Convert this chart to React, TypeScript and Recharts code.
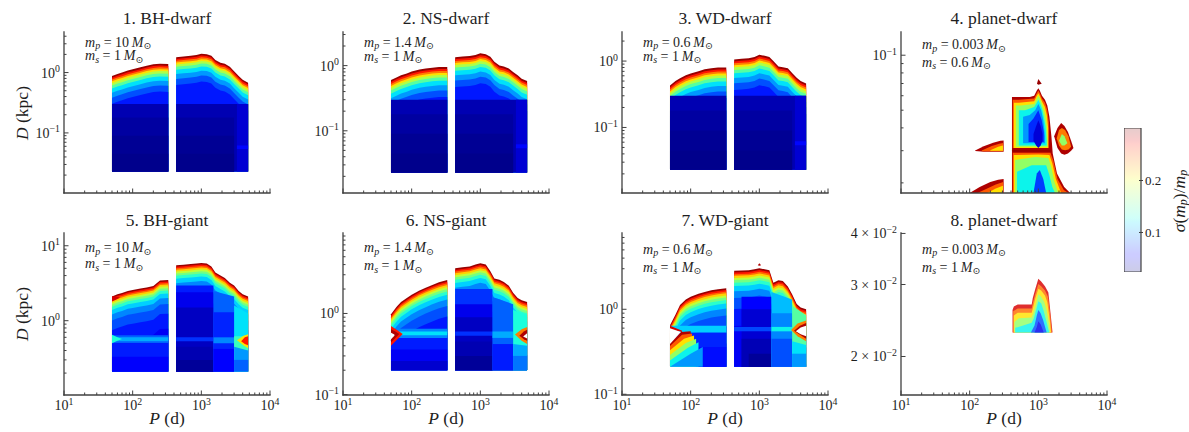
import React from 'react'
import { ComposedChart, Area, XAxis, YAxis, ReferenceArea } from 'recharts'

const FONT = "'Liberation Serif', 'DejaVu Serif', serif"
const INK = '#1e1e1e'
const FRAME = '#404040'

// colour scale of sigma(m_p)/m_p
const S_MIN = 0.024
const S_MAX = 0.301
const CB_TICKS = [0.1, 0.2]
const CB_T = [0, 0.11, 0.125, 0.34, 0.35, 0.375, 0.64, 0.65, 0.66, 0.89, 0.91, 1]

// axis ticks
const X_TICKS = [10, 20, 30, 40, 50, 60, 70, 80, 90, 100, 200, 300, 400, 500, 600, 700, 800, 900, 1000, 2000, 3000, 4000, 5000, 6000, 7000, 8000, 9000, 10000]
const X_LABELS = { '10': ['10', '1'], '100': ['10', '2'], '1000': ['10', '3'], '10000': ['10', '4'] }
const Y_TICKS = [0.02, 0.03, 0.04, 0.05, 0.06, 0.07, 0.08, 0.09, 0.1, 0.2, 0.3, 0.4, 0.5, 0.6, 0.7, 0.8, 0.9, 1, 2, 3, 4, 5, 6, 7, 8, 9, 10]
const Y_LABELS_POW = { '0.1': ['10', '\u22121'], '1': ['10', '0'], '10': ['10', '1'] }
const Y_LABELS_P8 = { '0.02': ['2 \u00d7 10', '\u22122'], '0.03': ['3 \u00d7 10', '\u22122'], '0.04': ['4 \u00d7 10', '\u22122'] }

// period grid of the two blocks of the simulation
const LEFT_P = [50, 60, 70, 85, 100, 130, 160, 200, 250, 330]
const RIGHT_P = [430, 550, 700, 850, 1000, 1200, 1400, 1600, 1900, 2200, 2600, 3000, 3500, 4000, 4800]

// colour bands under the detection edge: depth below edge (dex) and sigma
const DWARF_DEPTH = [0, 0.03, 0.06, 0.09, 0.12, 0.16, 0.21, 0.28, 0.36, 0.46]
const DWARF_SIGMA = [0.295, 0.27, 0.24, 0.21, 0.18, 0.15, 0.12, 0.1, 0.08, 0.065]
const GIANT_DEPTH = [0, 0.02, 0.04, 0.06, 0.085, 0.11, 0.14, 0.18, 0.24, 0.32, 0.45, 0.65]
const GIANT_SIGMA = [0.295, 0.27, 0.245, 0.215, 0.185, 0.16, 0.135, 0.115, 0.095, 0.08, 0.065, 0.052]

// 1. BH-dwarf
const P1_LEFT_TOP = [0.88, 0.95, 1.0, 1.08, 1.13, 1.22, 1.3, 1.37, 1.4, 1.38]
const P1_RIGHT_TOP = [1.8, 1.85, 1.9, 1.95, 2.05, 2.02, 1.9, 1.62, 1.45, 1.4, 1.25, 1.05, 0.88, 0.76, 0.68]
// 2. NS-dwarf
const P2_LEFT_TOP = [0.6, 0.66, 0.71, 0.76, 0.81, 0.87, 0.9, 0.93, 0.95, 0.95]
const P2_RIGHT_TOP = [1.35, 1.38, 1.4, 1.45, 1.55, 1.5, 1.37, 1.15, 1.0, 0.97, 0.9, 0.8, 0.71, 0.63, 0.58]
// 3. WD-dwarf
const P3_LEFT_TOP = [0.43, 0.5, 0.55, 0.61, 0.65, 0.7, 0.75, 0.78, 0.8, 0.8]
const P3_RIGHT_TOP = [1.06, 1.08, 1.1, 1.15, 1.25, 1.2, 1.15, 1.0, 0.83, 0.81, 0.78, 0.66, 0.56, 0.5, 0.46]
// 5. BH-giant
const P5_LEFT_TOP = [2.1, 2.25, 2.35, 2.5, 2.57, 2.68, 2.78, 2.9, 3.45, 3.5]
const P5_RIGHT_TOP = [5.5, 5.6, 5.7, 5.8, 5.9, 5.8, 5.3, 4.4, 4.0, 3.7, 3.2, 2.95, 2.5, 2.25, 2.1]
// 6. NS-giant
const P6_LEFT_TOP = [0.98, 1.2, 1.38, 1.55, 1.7, 1.92, 2.08, 2.25, 2.42, 2.58]
const P6_RIGHT_TOP = [3.6, 3.7, 3.8, 4.0, 4.15, 4.0, 3.3, 2.7, 2.6, 2.45, 2.2, 1.8, 1.55, 1.45, 1.38]
// 7. WD-giant
const P7_LEFT_TOP = [0.65, 0.86, 1.12, 1.3, 1.4, 1.52, 1.6, 1.67, 1.72, 1.77]
const P7_RIGHT_TOP = [2.84, 2.86, 2.88, 2.95, 3.03, 2.95, 2.87, 2.05, 2.2, 2.15, 1.85, 1.5, 1.15, 1.05, 1.0]

type Layer = { P: number[]; lo: number | number[]; hi: number | number[]; s: number }

const DWARF_BASE = (b: number): Layer[] => [
  { P: [50, 330], lo: b, hi: 0.3, s: 0.036 },
  { P: [50, 330], lo: b, hi: 0.18, s: 0.032 },
  { P: [50, 330], lo: b, hi: 0.09, s: 0.029 },
  { P: [50, 330], lo: b, hi: 0.045, s: 0.027 },
  { P: [430, 4800], lo: b, hi: 0.3, s: 0.036 },
  { P: [430, 3000], lo: b, hi: 0.18, s: 0.032 },
  { P: [430, 3000], lo: b, hi: 0.09, s: 0.029 },
  { P: [430, 3000], lo: b, hi: 0.045, s: 0.027 },
  { P: [3300, 4800], lo: b, hi: 0.3, s: 0.044 },
  { P: [3300, 4800], lo: 0.054, hi: 0.062, s: 0.06 },
]

const P5_EXTRA: Layer[] = [
  { P: [50, 330], lo: 0.5, hi: 0.64, s: 0.085 },
  { P: [50, 330], lo: 0.53, hi: 0.6, s: 0.105 },
  { P: [50, 330], lo: 0.21, hi: 0.5, s: 0.066 },
  { P: [50, 330], lo: 0.21, hi: 0.33, s: 0.054 },
  { P: [50, 58, 66], lo: [1.8, 1.92, 2.04], hi: [2.12, 2.08, 2.04], s: 0.28 },
  { P: [50, 60, 70], lo: [0.5, 0.54, 0.57], hi: [0.65, 0.6, 0.57], s: 0.13 },
  { P: [430, 1500], lo: 0.21, hi: 2.95, s: 0.066 },
  { P: [430, 1500], lo: 0.21, hi: 2.4, s: 0.05 },
  { P: [430, 1500], lo: 0.21, hi: 1.5, s: 0.04 },
  { P: [430, 1500], lo: 0.53, hi: 0.6, s: 0.072 },
  { P: [430, 1500], lo: 0.21, hi: 0.45, s: 0.036 },
  { P: [430, 1500], lo: 0.21, hi: 0.3, s: 0.03 },
  { P: [1500, 3000], lo: 0.21, hi: [2.5, 2.1], s: 0.085 },
  { P: [1500, 3000], lo: 0.21, hi: 1.3, s: 0.068 },
  { P: [1500, 3000], lo: 0.5, hi: 0.6, s: 0.095 },
  { P: [1500, 3000], lo: 0.21, hi: 0.42, s: 0.056 },
  { P: [3000, 4800], lo: 0.21, hi: [1.6, 1.25], s: 0.12 },
  { P: [3000, 4800], lo: 0.21, hi: 0.62, s: 0.14 },
  { P: [3300, 4100, 4800], lo: [0.55, 0.47, 0.43], hi: [0.55, 0.63, 0.66], s: 0.21 },
  { P: [3800, 4300, 4800], lo: [0.53, 0.49, 0.47], hi: [0.53, 0.6, 0.62], s: 0.27 },
  { P: [3000, 4800], lo: 0.21, hi: [0.45, 0.4], s: 0.1 },
  { P: [3000, 4800], lo: 0.21, hi: 0.3, s: 0.085 },
]

const P6_EXTRA: Layer[] = [
  { P: [50, 330], lo: 0.5, hi: 0.65, s: 0.095 },
  { P: [50, 330], lo: 0.54, hi: 0.6, s: 0.12 },
  { P: [50, 330], lo: 0.2, hi: 0.5, s: 0.066 },
  { P: [50, 330], lo: 0.2, hi: 0.36, s: 0.052 },
  { P: [50, 330], lo: 0.2, hi: 0.26, s: 0.043 },
  { P: [50, 62, 74], lo: [0.4, 0.48, 0.56], hi: [0.7, 0.62, 0.56], s: 0.27 },
  { P: [50, 58, 66], lo: [0.44, 0.5, 0.56], hi: [0.64, 0.6, 0.56], s: 0.29 },
  { P: [50, 56], lo: [0.48, 0.53], hi: [0.58, 0.55], s: -1 },
  { P: [430, 1500], lo: 0.2, hi: 2.0, s: 0.072 },
  { P: [430, 1500], lo: 0.2, hi: 1.3, s: 0.05 },
  { P: [430, 1500], lo: 0.2, hi: 0.9, s: 0.04 },
  { P: [430, 1500], lo: 0.53, hi: 0.6, s: 0.072 },
  { P: [430, 1500], lo: 0.2, hi: 0.45, s: 0.036 },
  { P: [430, 1500], lo: 0.2, hi: 0.3, s: 0.03 },
  { P: [1500, 3000], lo: 0.2, hi: [1.6, 1.3], s: 0.085 },
  { P: [1500, 3000], lo: 0.5, hi: 0.6, s: 0.105 },
  { P: [1500, 3000], lo: 0.2, hi: 0.42, s: 0.066 },
  { P: [3000, 4800], lo: 0.2, hi: [1.1, 0.95], s: 0.13 },
  { P: [3200, 4000, 4800], lo: [0.55, 0.46, 0.42], hi: [0.55, 0.64, 0.68], s: 0.24 },
  { P: [3700, 4300, 4800], lo: [0.53, 0.48, 0.46], hi: [0.53, 0.6, 0.63], s: 0.29 },
  { P: [4200, 4800], lo: [0.52, 0.49], hi: [0.52, 0.57], s: -1 },
  { P: [3000, 4800], lo: 0.2, hi: [0.42, 0.4], s: 0.105 },
  { P: [3000, 4800], lo: 0.2, hi: 0.3, s: 0.09 },
]

const P7_EXTRA: Layer[] = [
  { P: [50, 330], lo: 0.53, hi: 0.64, s: 0.115 },
  { P: [50, 330], lo: 0.21, hi: 0.53, s: 0.068 },
  { P: [50, 330], lo: 0.21, hi: 0.36, s: 0.062 },
  { P: [50, 72, 100], lo: 0.21, hi: [0.4, 0.54, 0.55], s: 0.29 },
  { P: [50, 75, 105], lo: 0.21, hi: [0.37, 0.5, 0.52], s: 0.25 },
  { P: [50, 80, 112], lo: 0.21, hi: [0.33, 0.45, 0.49], s: 0.21 },
  { P: [50, 85, 120], lo: 0.21, hi: [0.29, 0.4, 0.45], s: 0.17 },
  { P: [50, 90, 130], lo: 0.21, hi: [0.25, 0.35, 0.41], s: 0.125 },
  { P: [50, 100, 150], lo: 0.21, hi: [0.21, 0.3, 0.36], s: 0.1 },
  { P: [50, 75], lo: [0.58, 0.54], hi: [0.64, 0.56], s: 0.28 },
  { P: [50, 72], lo: [0.39, 0.54], hi: [0.6, 0.54], s: -1 },
  { P: [550, 1500], lo: 0.21, hi: 1.4, s: 0.058 },
  { P: [550, 1500], lo: 0.21, hi: 1.0, s: 0.044 },
  { P: [430, 1500], lo: 0.55, hi: 0.62, s: 0.078 },
  { P: [550, 1500], lo: 0.21, hi: 0.45, s: 0.037 },
  { P: [700, 1500], lo: 0.21, hi: 0.3, s: 0.03 },
  { P: [1500, 3000], lo: 0.21, hi: [1.6, 1.3], s: 0.11 },
  { P: [1500, 3000], lo: 0.21, hi: 0.9, s: 0.095 },
  { P: [1500, 3000], lo: 0.55, hi: 0.62, s: 0.125 },
  { P: [1500, 3000], lo: 0.21, hi: 0.45, s: 0.08 },
  { P: [3000, 4800], lo: 0.21, hi: [1.1, 0.85], s: 0.15 },
  { P: [2900, 3600, 4800], lo: [0.57, 0.48, 0.42], hi: [0.57, 0.68, 0.74], s: 0.24 },
  { P: [3200, 3900, 4800], lo: [0.56, 0.5, 0.45], hi: [0.56, 0.64, 0.69], s: 0.29 },
  { P: [3400, 4000, 4800], lo: [0.55, 0.51, 0.48], hi: [0.55, 0.61, 0.64], s: -1 },
  { P: [3000, 4800], lo: 0.21, hi: [0.42, 0.38], s: 0.12 },
  { P: [3000, 4800], lo: 0.21, hi: 0.3, s: 0.1 },
  { P: [950, 1000, 1060], lo: [3.3, 3.25, 3.3], hi: [3.3, 3.48, 3.3], s: 0.29 },
]

// 4. planet-dwarf (m_s = 0.6)
const P4_ENV_P = [413, 450, 520, 620, 750, 870, 950, 1000, 1050, 1130, 1250, 1350, 1450, 1550, 1620, 1870, 2380, 2910]
const P4_ENV_TOP = [0.059, 0.059, 0.059, 0.059, 0.059, 0.06, 0.064, 0.066, 0.064, 0.06, 0.057, 0.053, 0.046, 0.036, 0.029, 0.0225, 0.019, 0.0176]
const P4_LAYERS: Layer[] = [
  { P: P4_ENV_P, lo: 0.0176, hi: P4_ENV_TOP, s: 0.29 },
  { P: [425, 520, 870, 950, 1000, 1050, 1130, 1250, 1350, 1420], lo: 0.031, hi: [0.057, 0.057, 0.058, 0.062, 0.064, 0.062, 0.058, 0.055, 0.05, 0.043], s: 0.25 },
  { P: [440, 520, 870, 950, 1000, 1050, 1130, 1250, 1330, 1390], lo: 0.031, hi: [0.055, 0.055, 0.056, 0.06, 0.062, 0.06, 0.056, 0.052, 0.047, 0.04], s: 0.21 },
  { P: [470, 560, 870, 950, 1000, 1050, 1130, 1230, 1300, 1360], lo: 0.0315, hi: [0.053, 0.053, 0.054, 0.058, 0.06, 0.058, 0.054, 0.049, 0.044, 0.037], s: 0.17 },
  { P: [520, 640, 870, 950, 1000, 1050, 1130, 1200, 1270, 1320], lo: 0.032, hi: [0.05, 0.05, 0.052, 0.055, 0.057, 0.055, 0.051, 0.046, 0.041, 0.034], s: 0.125 },
  { P: [600, 750, 900, 1000, 1100, 1180, 1250], lo: 0.033, hi: [0.046, 0.047, 0.05, 0.054, 0.05, 0.044, 0.036], s: 0.1 },
  { P: [720, 850, 1000, 1120, 1200], lo: 0.0335, hi: [0.042, 0.045, 0.05, 0.044, 0.038], s: 0.07 },
  { P: [850, 930, 1000, 1080, 1150], lo: [0.034, 0.032, 0.031, 0.032, 0.034], hi: [0.037, 0.041, 0.044, 0.041, 0.037], s: 0.045 },
  { P: [413, 1550], lo: 0.0296, hi: 0.0304, s: 0.295 },
  { P: [425, 1000, 1500, 1650, 1900, 2350, 2750], lo: 0.0176, hi: [0.0292, 0.0292, 0.0292, 0.0265, 0.021, 0.0183, 0.0176], s: 0.25 },
  { P: [440, 1000, 1450, 1600, 1800, 2150], lo: 0.0176, hi: [0.0284, 0.0286, 0.0284, 0.0255, 0.021, 0.0176], s: 0.21 },
  { P: [460, 900, 1400, 1550, 1700, 1950], lo: 0.0176, hi: [0.0267, 0.0277, 0.0274, 0.0243, 0.0205, 0.0176], s: 0.17 },
  { P: [490, 800, 1300, 1450, 1600, 1750], lo: 0.0176, hi: [0.023, 0.025, 0.025, 0.022, 0.019, 0.0176], s: 0.125 },
  { P: [850, 950, 1050, 1180, 1300], lo: 0.0176, hi: [0.0176, 0.0225, 0.0235, 0.021, 0.0176], s: 0.075 },
  { P: [1700, 1900, 2150, 2400, 2700, 3000, 3250], lo: [0.036, 0.031, 0.029, 0.0285, 0.029, 0.03, 0.031], hi: [0.036, 0.04, 0.0425, 0.041, 0.038, 0.034, 0.031], s: 0.29 },
  { P: [1850, 2000, 2200, 2450, 2750, 3000], lo: [0.035, 0.032, 0.0305, 0.0302, 0.0305, 0.0315], hi: [0.035, 0.039, 0.04, 0.039, 0.036, 0.0315], s: 0.24 },
  { P: [2000, 2200, 2400, 2650], lo: [0.034, 0.032, 0.032, 0.033], hi: [0.034, 0.037, 0.036, 0.033], s: 0.17 },
  { P: [120, 160, 220, 280, 312], lo: [0.0299, 0.0296, 0.0296, 0.0296, 0.0296], hi: [0.0301, 0.0317, 0.0332, 0.034, 0.0341], s: 0.29 },
  { P: [150, 210, 270, 308], lo: 0.0298, hi: [0.0301, 0.0318, 0.0328, 0.0331], s: 0.25 },
  { P: [200, 260, 305], lo: 0.03, hi: [0.0302, 0.0315, 0.032], s: 0.21 },
  { P: [100, 140, 200, 260, 312], lo: 0.0176, hi: [0.0176, 0.019, 0.0202, 0.0208, 0.021], s: 0.29 },
  { P: [130, 180, 240, 308], lo: 0.0176, hi: [0.0176, 0.0186, 0.0196, 0.0202], s: 0.25 },
  { P: [180, 240, 305], lo: 0.0176, hi: [0.0176, 0.0186, 0.0193], s: 0.21 },
  { P: [955, 1000, 1120], lo: [0.0697, 0.069, 0.0697], hi: [0.0697, 0.074, 0.0697], s: 0.295 },
]

// 8. planet-dwarf (m_s = 1)
const P8_P = [421, 440, 500, 600, 700, 800, 830, 900, 1000, 1100, 1250, 1400, 1500, 1610]
const P8_TOP = [0.026, 0.0265, 0.0268, 0.0268, 0.0268, 0.0268, 0.0278, 0.0292, 0.031, 0.0305, 0.0297, 0.0287, 0.0257, 0.0229]
const P8_LAYERS: Layer[] = [
  { P: P8_P, lo: 0.0229, hi: P8_TOP, s: 0.28 },
  { P: [430, 500, 800, 835, 900, 1000, 1100, 1250, 1380, 1480, 1575], lo: 0.0229, hi: [0.0258, 0.0262, 0.0262, 0.0271, 0.0284, 0.0301, 0.0297, 0.029, 0.028, 0.0256, 0.0229], s: 0.245 },
  { P: [440, 500, 800, 840, 900, 1000, 1100, 1250, 1350, 1450, 1535], lo: 0.0229, hi: [0.0252, 0.0256, 0.0256, 0.0264, 0.0277, 0.0293, 0.029, 0.0282, 0.0272, 0.025, 0.0229], s: 0.21 },
  { P: [450, 520, 800, 850, 920, 1000, 1100, 1220, 1320, 1420, 1490], lo: 0.0229, hi: [0.0243, 0.0248, 0.0249, 0.0256, 0.0268, 0.0284, 0.028, 0.0272, 0.026, 0.0242, 0.0229], s: 0.17 },
  { P: [460, 600, 800, 860, 940, 1000, 1100, 1200, 1300, 1440], lo: 0.0229, hi: [0.0235, 0.0238, 0.0242, 0.0248, 0.0262, 0.0273, 0.027, 0.0258, 0.0245, 0.0229], s: 0.125 },
  { P: [780, 880, 950, 1000, 1080, 1180, 1320], lo: 0.0229, hi: [0.0229, 0.0238, 0.0252, 0.026, 0.0255, 0.0245, 0.0229], s: 0.08 },
  { P: [880, 950, 1000, 1080, 1200], lo: 0.0229, hi: [0.0229, 0.0236, 0.0244, 0.024, 0.0229], s: 0.05 },
]

const JET_R = [[0, 0], [0.35, 0], [0.66, 1], [0.89, 1], [1, 0.5]]
const JET_G = [[0, 0], [0.125, 0], [0.375, 1], [0.64, 1], [0.91, 0], [1, 0]]
const JET_B = [[0, 0.5], [0.11, 1], [0.34, 1], [0.65, 0], [1, 0]]

function ramp(stops: number[][], t: number) {
  for (let i = 0; i < stops.length - 1; i++) {
    const [a, va] = stops[i]
    const [b, vb] = stops[i + 1]
    if (t <= b) return va + ((t - a) / (b - a)) * (vb - va)
  }
  return stops[stops.length - 1][1]
}

function colour(s: number, alpha = 1) {
  if (s < 0) return '#ffffff'
  const t = Math.min(1, Math.max(0, (s - S_MIN) / (S_MAX - S_MIN)))
  const c = [ramp(JET_R, t), ramp(JET_G, t), ramp(JET_B, t)].map((v) => Math.round(255 * (alpha * v + 1 - alpha)))
  return `rgb(${c.join(',')})`
}

function bands(P: number[], top: number[], bottom: number, depth: number[], sigma: number[]): Layer[] {
  return depth.map((d, i) => ({ P, lo: bottom, hi: top.map((t) => Math.max(bottom, t / Math.pow(10, d))), s: sigma[i] }))
}

const pick = (v: number | number[], i: number) => (Array.isArray(v) ? v[i] : v)
const rows = (l: Layer) => l.P.map((p, i) => ({ p, v: [pick(l.lo, i), pick(l.hi, i)] }))

type PanelDef = {
  title: string; mp: string; ms: string; col: number; row: number
  yDomain: number[]; yLabels: Record<string, string[]>; layers: Layer[]
  alpha: number; noteY: number; noteGap: number
}

const COL_X = [64, 343, 622, 901]
const ROW_Y = [32, 233]
const ROW_H = [161, 162]
const PW = 206
const ML = 60, MR = 14, MT = 10, MB = 24

const PANELS: PanelDef[] = [
  {
    title: '1. BH-dwarf', mp: '10', ms: '1', col: 0, row: 0, yDomain: [0.0101, 4.7], yLabels: Y_LABELS_POW, alpha: 1, noteY: 46.5, noteGap: 13.5,
    layers: [...bands(LEFT_P, P1_LEFT_TOP, 0.023, DWARF_DEPTH, DWARF_SIGMA), ...bands(RIGHT_P, P1_RIGHT_TOP, 0.023, DWARF_DEPTH, DWARF_SIGMA), ...DWARF_BASE(0.023)],
  },
  {
    title: '2. NS-dwarf', mp: '1.4', ms: '1', col: 1, row: 0, yDomain: [0.0111, 3.28], yLabels: Y_LABELS_POW, alpha: 1, noteY: 46.5, noteGap: 14,
    layers: [...bands(LEFT_P, P2_LEFT_TOP, 0.023, DWARF_DEPTH, DWARF_SIGMA), ...bands(RIGHT_P, P2_RIGHT_TOP, 0.023, DWARF_DEPTH, DWARF_SIGMA), ...DWARF_BASE(0.023)],
  },
  {
    title: '3. WD-dwarf', mp: '0.6', ms: '1', col: 2, row: 0, yDomain: [0.0103, 2.74], yLabels: Y_LABELS_POW, alpha: 1, noteY: 46.5, noteGap: 14,
    layers: [...bands(LEFT_P, P3_LEFT_TOP, 0.023, DWARF_DEPTH, DWARF_SIGMA), ...bands(RIGHT_P, P3_RIGHT_TOP, 0.023, DWARF_DEPTH, DWARF_SIGMA), ...DWARF_BASE(0.023)],
  },
  {
    title: '4. planet-dwarf', mp: '0.003', ms: '0.6', col: 3, row: 0, yDomain: [0.0176, 0.134], yLabels: Y_LABELS_POW, alpha: 1, noteY: 49, noteGap: 17.5,
    layers: P4_LAYERS,
  },
  {
    title: '5. BH-giant', mp: '10', ms: '1', col: 0, row: 1, yDomain: [0.102, 14.8], yLabels: Y_LABELS_POW, alpha: 1, noteY: 252, noteGap: 16,
    layers: [...bands(LEFT_P, P5_LEFT_TOP, 0.21, GIANT_DEPTH, GIANT_SIGMA), ...bands(RIGHT_P, P5_RIGHT_TOP, 0.21, GIANT_DEPTH, GIANT_SIGMA), ...P5_EXTRA],
  },
  {
    title: '6. NS-giant', mp: '1.4', ms: '1', col: 1, row: 1, yDomain: [0.099, 9.8], yLabels: Y_LABELS_POW, alpha: 1, noteY: 252, noteGap: 18,
    layers: [...bands(LEFT_P, P6_LEFT_TOP, 0.2, GIANT_DEPTH, GIANT_SIGMA), ...bands(RIGHT_P, P6_RIGHT_TOP, 0.2, GIANT_DEPTH, GIANT_SIGMA), ...P6_EXTRA],
  },
  {
    title: '7. WD-giant', mp: '0.6', ms: '1', col: 2, row: 1, yDomain: [0.098, 7.9], yLabels: Y_LABELS_POW, alpha: 1, noteY: 253.5, noteGap: 18.3,
    layers: [...bands(LEFT_P, P7_LEFT_TOP, 0.21, GIANT_DEPTH, GIANT_SIGMA), ...bands(RIGHT_P, P7_RIGHT_TOP, 0.21, GIANT_DEPTH, GIANT_SIGMA), ...P7_EXTRA],
  },
  {
    title: '8. planet-dwarf', mp: '0.003', ms: '1', col: 3, row: 1, yDomain: [0.0161, 0.0401], yLabels: Y_LABELS_P8, alpha: 0.82, noteY: 253.5, noteGap: 18.3,
    layers: P8_LAYERS,
  },
]

function Pow({ x, y, lab, anchor, size = 14 }: any) {
  return (
    <text x={x} y={y} textAnchor={anchor} fontFamily={FONT} fontSize={size} fill={INK}>
      {lab[0]}
      <tspan fontSize={size * 0.7} dy={-5.5}>{lab[1]}</tspan>
    </text>
  )
}

function XTick({ x, y, payload, show }: any) {
  const lab = X_LABELS[String(payload.value)]
  return (
    <g>
      <line x1={x} x2={x} y1={y} y2={y - (lab ? 4.5 : 2.5)} stroke={FRAME} strokeWidth={1} />
      {lab && show && <Pow x={x} y={y + 15} lab={lab} anchor="middle" />}
    </g>
  )
}

function YTick({ x, y, payload, labels }: any) {
  const lab = labels[String(payload.value)]
  return (
    <g>
      <line x1={x} x2={x + (lab ? 4.5 : 2.5)} y1={y} y2={y} stroke={FRAME} strokeWidth={1} />
      {lab && <Pow x={x - 4} y={y + 5} lab={lab} anchor="end" />}
    </g>
  )
}

function Panel({ def }: { def: PanelDef }) {
  const h = ROW_H[def.row]
  const yTicks = Y_TICKS.filter((v) => v >= def.yDomain[0] && v <= def.yDomain[1])
  return (
    <div style={{ position: 'absolute', left: COL_X[def.col] - ML, top: ROW_Y[def.row] - MT }}>
      <ComposedChart width={PW + ML + MR} height={h + MT + MB} margin={{ top: MT, right: MR, bottom: 0, left: 0 }}>
        <XAxis dataKey="p" type="number" scale="log" domain={[10, 10000]} allowDataOverflow ticks={X_TICKS} interval={0}
          height={MB} tickSize={0} tickMargin={0} tickLine={false}
          axisLine={{ stroke: FRAME, strokeWidth: 1.3, strokeLinecap: 'square' }}
          tick={(p: any) => <XTick {...p} show={def.row === 1} />} />
        <XAxis xAxisId="t" orientation="top" type="number" scale="log" domain={[10, 10000]} allowDataOverflow height={0}
          tick={false} tickLine={false} axisLine={{ stroke: FRAME, strokeWidth: 1.3, strokeLinecap: 'square' }} />
        <YAxis type="number" scale="log" domain={def.yDomain} allowDataOverflow ticks={yTicks} interval={0}
          width={ML} tickSize={0} tickMargin={0} tickLine={false}
          axisLine={{ stroke: FRAME, strokeWidth: 1.3, strokeLinecap: 'square' }}
          tick={(p: any) => <YTick {...p} labels={def.yLabels} />} />
        <YAxis yAxisId="r" orientation="right" type="number" scale="log" domain={def.yDomain} allowDataOverflow width={0}
          tick={false} tickLine={false} axisLine={{ stroke: FRAME, strokeWidth: 1.3, strokeLinecap: 'square' }} />
        {def.layers.map((l, i) => (
          <Area key={i} data={rows(l)} dataKey="v" type="linear" stroke="none" fill={colour(l.s, def.alpha)} fillOpacity={1}
            dot={false} activeDot={false} isAnimationActive={false} legendType="none" />
        ))}
      </ComposedChart>
    </div>
  )
}

function CbTick({ x, y, payload }: any) {
  return (
    <g>
      <line x1={x - 2} x2={x + 2} y1={y} y2={y} stroke={FRAME} strokeWidth={1} />
      <text x={x + 4} y={y + 4.5} fontFamily={FONT} fontSize={13} fill={INK}>{payload.value.toFixed(1)}</text>
    </g>
  )
}

function ColourBar() {
  return (
    <div style={{ position: 'absolute', left: 1124, top: 128 }}>
      <ComposedChart width={17 + 40} height={144} data={[{ x: 0 }, { x: 1 }]} margin={{ top: 0, right: 0, bottom: 0, left: 0 }}>
        <defs>
          <linearGradient id="cbar" x1="0" y1="1" x2="0" y2="0">
            {CB_T.map((t) => <stop key={t} offset={t} stopColor={colour(S_MIN + t * (S_MAX - S_MIN), 0.2)} />)}
          </linearGradient>
        </defs>
        <XAxis dataKey="x" type="number" domain={[0, 1]} hide />
        <YAxis type="number" orientation="right" domain={[S_MIN, S_MAX]} allowDataOverflow ticks={CB_TICKS} interval={0}
          width={40} tickSize={0} tickMargin={0} tickLine={false} axisLine={false} tick={(p: any) => <CbTick {...p} />} />
        <ReferenceArea x1={0} x2={1} y1={S_MIN} y2={S_MAX} fill="url(#cbar)" fillOpacity={1} stroke={FRAME} strokeWidth={1.2} />
      </ComposedChart>
    </div>
  )
}

function Note({ x, y, mp, ms, gap }: any) {
  const line = (yy: number, sub: string, val: string) => (
    <text x={x} y={yy} fontFamily={FONT} fontSize={14} fill={INK}>
      <tspan fontStyle="italic">m</tspan>
      <tspan fontStyle="italic" fontSize={10} dy={2.5}>{sub}</tspan>
      <tspan dy={-2.5}>{` = ${val}\u2009`}</tspan>
      <tspan fontStyle="italic">M</tspan>
      <tspan fontSize={9.5} dy={2.5}>{'\u2299'}</tspan>
    </text>
  )
  return (
    <g>
      {line(y, 'p', mp)}
      {line(y + gap, 's', ms)}
    </g>
  )
}

function Labels() {
  return (
    <svg width={1189} height={432} style={{ position: 'absolute', left: 0, top: 0, pointerEvents: 'none' }}>
      {PANELS.map((d) => (
        <g key={d.title}>
          <text x={COL_X[d.col] + PW / 2} y={d.row === 0 ? 24 : 226} textAnchor="middle" fontFamily={FONT} fontSize={17.5} fill={INK}>{d.title}</text>
          <Note x={COL_X[d.col] + 21} y={d.noteY} mp={d.mp} ms={d.ms} gap={d.noteGap} />
          {d.row === 1 && (
            <text x={COL_X[d.col] + PW / 2} y={424} textAnchor="middle" fontFamily={FONT} fontSize={17.5} fill={INK}>
              <tspan fontStyle="italic">P</tspan>{' (d)'}
            </text>
          )}
        </g>
      ))}
      {[113, 314].map((cy) => (
        <text key={cy} x={22} y={cy} transform={`rotate(-90 22 ${cy})`} textAnchor="middle" dominantBaseline="central" fontFamily={FONT} fontSize={17.5} fill={INK}>
          <tspan fontStyle="italic">D</tspan>{' (kpc)'}
        </text>
      ))}
      <text x={1179} y={201} transform="rotate(-90 1179 201)" textAnchor="middle" dominantBaseline="central" fontFamily={FONT} fontSize={17.5} fill={INK}>
        <tspan fontStyle="italic">{'\u03c3'}</tspan>
        {'('}
        <tspan fontStyle="italic">m</tspan>
        <tspan fontStyle="italic" fontSize={12} dy={3.5}>p</tspan>
        <tspan dy={-3.5}>{')/'}</tspan>
        <tspan fontStyle="italic">m</tspan>
        <tspan fontStyle="italic" fontSize={12} dy={3.5}>p</tspan>
      </text>
    </svg>
  )
}

export default function App() {
  return (
    <div style={{ position: 'absolute', left: 0, top: 0, width: 1189, height: 432, background: '#fff', overflow: 'hidden' }}>
      {PANELS.map((d) => <Panel key={d.title} def={d} />)}
      <ColourBar />
      <Labels />
    </div>
  )
}
